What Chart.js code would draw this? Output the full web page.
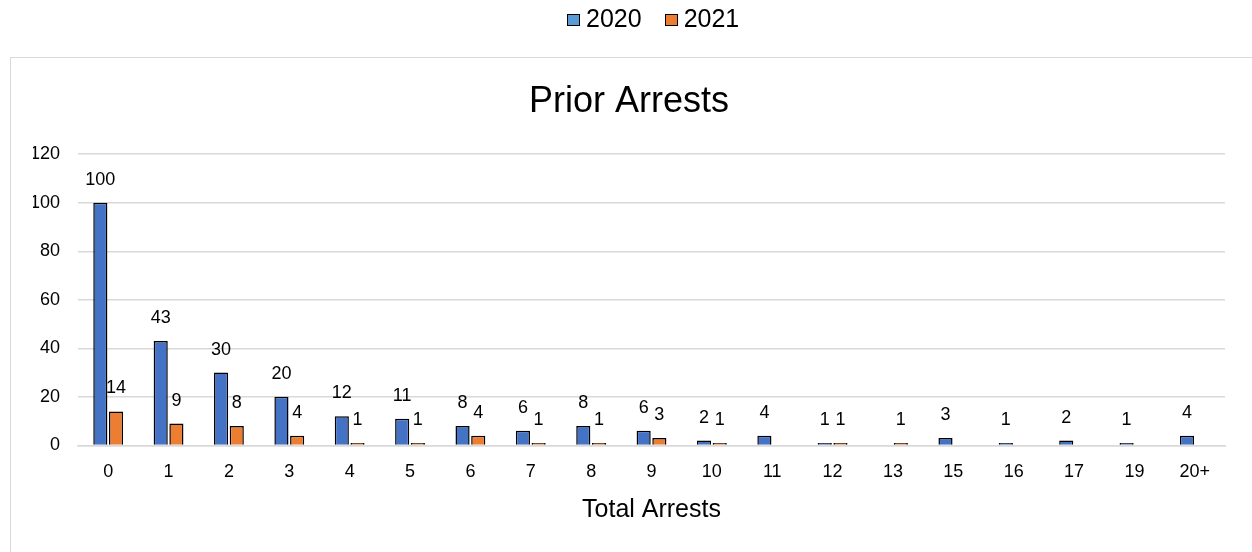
<!DOCTYPE html>
<html>
<head>
<meta charset="utf-8">
<script src="https://cdn.jsdelivr.net/npm/chart.js@4"></script>
<style>
  html, body { margin: 0; padding: 0; background: #fff; }
  #wrap { position: relative; width: 1252px; height: 552px; }
  #myChart { position: absolute; left: 0; top: 0; }
  #legend { position: absolute; left: 567px; top: 4px; display: flex; align-items: center;
            font-family: 'Liberation Sans', Arial, sans-serif; font-size: 25px; color: #000; }
  #legend .item { display: flex; align-items: center; margin-right: 23px; }
  #legend .box { width: 11px; height: 10px; border: 1.5px solid #000; margin-right: 6px; margin-top: 3px; }
</style>
</head>
<body>
<div id="wrap">
  <canvas id="myChart" width="1252" height="552"></canvas>
  <div id="legend"></div>
</div>
<script>
// categories and values
const categories = ['0', '1', '2', '3', '4', '5', '6', '7', '8', '9', '10', '11', '12', '13', '15', '16', '17', '19', '20+'];
const arrests2020 = [100, 43, 30, 20, 12, 11, 8, 6, 8, 6, 2, 4, 1, null, 3, 1, 2, 1, 4];
const arrests2021 = [14, 9, 8, 4, 1, 1, 4, 1, 1, 3, 1, null, 1, 1, null, null, null, null, null];
const yTicks = [0, 20, 40, 60, 80, 100, 120];

const FONT = "'Liberation Sans', Arial, sans-serif";

// light grey frame round the plot (the legend sits above it)
const framePlugin = {
    id: 'frame',
    beforeDraw(chart)
    {
        const ctx = chart.ctx;
        ctx.save();
        ctx.strokeStyle = '#d9d9d9';
        ctx.lineWidth = 1;
        ctx.strokeRect(10.5, 57.5, chart.width, chart.height);
        ctx.restore();
    }
};

// value labels above each bar
const valueLabels = {
    id: 'valueLabels',
    afterDatasetsDraw(chart)
    {
        const ctx = chart.ctx;
        ctx.save();
        ctx.font = '18px ' + FONT;
        ctx.fillStyle = '#000';
        ctx.textAlign = 'center';
        ctx.textBaseline = 'middle';
        chart.data.datasets.forEach((ds, i) => {
            chart.getDatasetMeta(i).data.forEach((bar, j) => {
                const v = ds.data[j];
                if (v === null || v === undefined) return;
                ctx.fillText(String(v), bar.x, bar.y - 23);
            });
        });
        ctx.restore();
    }
};

let myChart = document.getElementById('myChart').getContext('2d');

let chart_1 = new Chart(myChart,
{
    type: 'bar',
    data:
    {
        labels: categories,
        datasets:
        [
            {
                label: '2020',
                data: arrests2020,
                backgroundColor: '#4472C4',
                legendColor: '#5B9BD5',
                borderColor: '#000',
                borderWidth: 1.5,
                categoryPercentage: 0.52,
                barPercentage: 0.9
            },
            {
                label: '2021',
                data: arrests2021,
                backgroundColor: '#ED7D31',
                legendColor: '#ED7D31',
                borderColor: '#000',
                borderWidth: 1.5,
                categoryPercentage: 0.52,
                barPercentage: 0.9
            }
        ]
    },
    options:
    {
        responsive: false,
        animation: false,
        layout: { padding: { left: 33, right: 27, bottom: 23, top: 0 } },
        plugins:
        {
            legend: { display: false },
            title:
            {
                display: true,
                text: 'Prior Arrests',
                color: '#000',
                font: { size: 36, family: FONT, weight: 'normal' },
                padding: { top: 80, bottom: 31 }
            },
            tooltip: { enabled: false }
        },
        scales:
        {
            x:
            {
                grid: { display: false },
                border: { color: '#d9d9d9', width: 1.5 },
                ticks: { color: '#000', font: { size: 18, family: FONT }, padding: 8 },
                title:
                {
                    display: true,
                    text: 'Total Arrests',
                    color: '#000',
                    font: { size: 25, family: FONT },
                    padding: { top: 4 }
                }
            },
            y:
            {
                min: 0,
                max: 120,
                afterBuildTicks(axis) { axis.ticks = yTicks.map(v => ({ value: v })); },
                afterFit(axis) { axis.width = 45; },
                grid: { color: '#d9d9d9', lineWidth: 1.5, drawTicks: false },
                border: { display: false },
                ticks: { color: '#000', font: { size: 18, family: FONT }, padding: 18 }
            }
        }
    },
    plugins: [framePlugin, valueLabels]
});

// legend above the frame, built from the datasets
const legendEl = document.getElementById('legend');
chart_1.data.datasets.forEach(ds => {
    const item = document.createElement('div');
    item.className = 'item';
    const box = document.createElement('span');
    box.className = 'box';
    box.style.background = ds.legendColor;
    item.appendChild(box);
    item.appendChild(document.createTextNode(ds.label));
    legendEl.appendChild(item);
});
</script>
</body>
</html>
